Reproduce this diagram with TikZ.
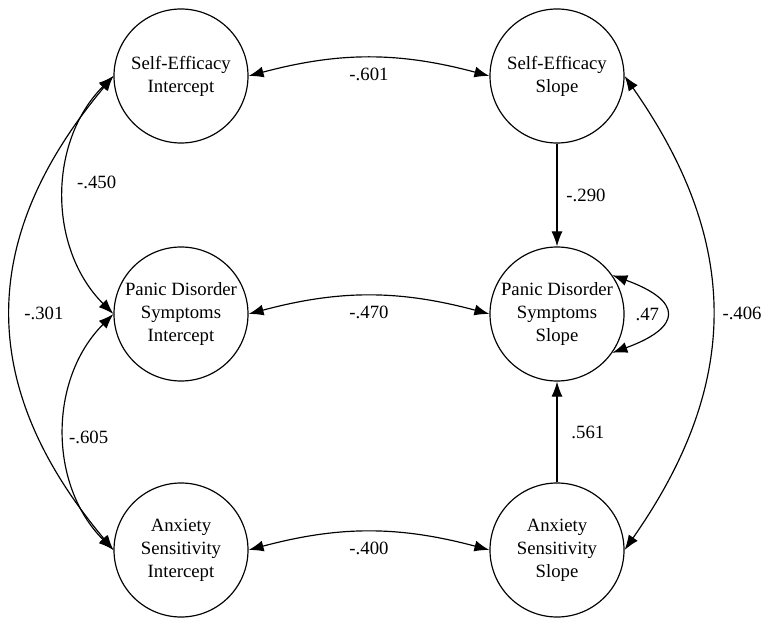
\documentclass[tikz,border=0pt]{standalone}
\usepackage{fontspec}
\setmainfont{Liberation Serif}
\usetikzlibrary{arrows.meta}

\begin{document}
\begin{tikzpicture}[
        latent/.style={draw, circle, line width=1pt, minimum size=4.02cm, inner sep=0pt, align=center, font=\fontsize{16}{19.6}\selectfont},
        coef/.style={font=\fontsize{16}{19.6}\selectfont},
        path/.style={line width=1pt, -{Latex[length=0.45cm, width=0.33cm]}},
        cov/.style={line width=1pt, {Latex[length=0.45cm, width=0.33cm]}-{Latex[length=0.45cm, width=0.33cm]}}
    ]
        \useasboundingbox (0,0) rectangle (22.92,18.84);
        \node[latent] (sei) at (5.43,16.56) {Self-Efficacy\\Intercept};
        \node[latent] (ses) at (16.71,16.56) {Self-Efficacy\\Slope};
        \node[latent] (pdi) at (5.43,9.42) {Panic Disorder\\Symptoms\\Intercept};
        \node[latent] (pds) at (16.71,9.42) {Panic Disorder\\Symptoms\\Slope};
        \node[latent] (asi) at (5.43,2.34) {Anxiety\\Sensitivity\\Intercept};
        \node[latent] (ass) at (16.71,2.34) {Anxiety\\Sensitivity\\Slope};

        \draw[cov] (sei.east) to[bend left=15] node[coef, midway, below=0.18cm]{-.601} (ses.west);
        \draw[cov] (pdi.east) to[bend left=15] node[coef, midway, below=0.18cm]{-.470} (pds.west);
        \draw[cov] (asi.east) to[bend left=15] node[coef, midway, below=0.18cm]{-.400} (ass.west);

        \draw[cov] (sei.west) to[bend right=45] node[coef, pos=0.45, right=0.24cm]{-.450} (pdi.west);
        \draw[cov] (pdi.west) to[bend right=45] node[coef, pos=0.52, right]{-.605} (asi.west);
        \draw[cov] (sei.west) to[bend right=40, looseness=1.15] node[coef, midway, right=0.27cm]{-.301} (asi.west);
        \draw[cov] (ses.east) to[bend left=35, looseness=1.1] node[coef, midway, right=0.18cm]{-.406} (ass.east);

        \draw[path] (ses) -- node[coef, right=0.15cm]{-.290} (pds);
        \draw[path] (ass) -- node[coef, right=0.3cm]{.561} (pds);
        \draw[cov] (pds.35) .. controls +(-20:2.25) and +(20:2.25) .. node[coef, midway, left=0.05cm]{.47} (pds.-35);
    \end{tikzpicture}
\end{document}
